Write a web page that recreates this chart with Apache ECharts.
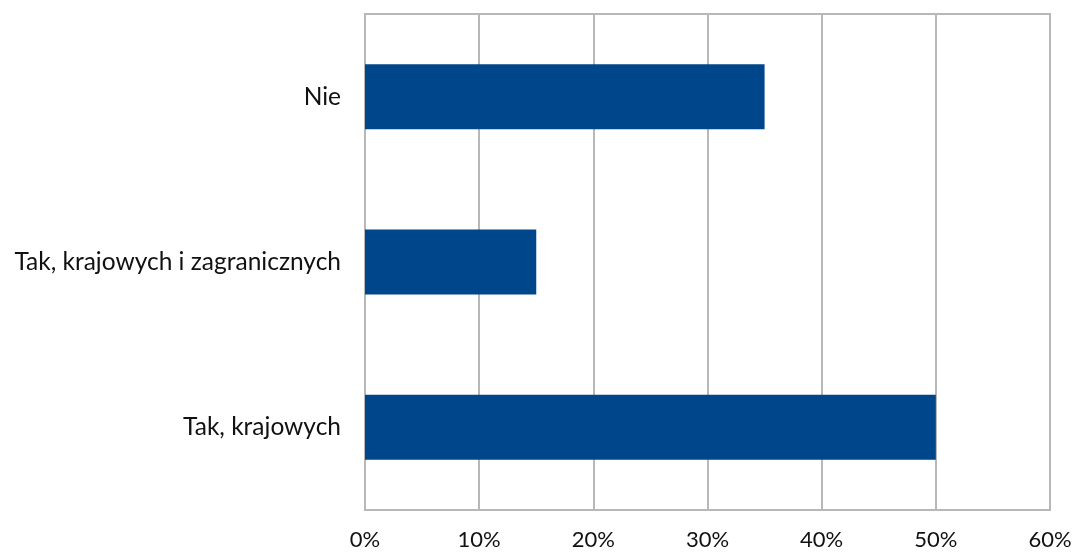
<!DOCTYPE html>
<html>
<head>
<meta charset="utf-8">
<script src="https://cdn.jsdelivr.net/npm/echarts@6/dist/echarts.min.js"></script>
<style>
  html, body { margin: 0; padding: 0; background: #fff; }
  #chart { width: 1078px; height: 553px; }
</style>
</head>
<body>
<div id="chart"></div>
<script>
// Answer categories, listed bottom to top
const categories = ['Tak, krajowych', 'Tak, krajowych i zagranicznych', 'Nie'];
// Share of responses, percent
const shares = [50, 15, 35];
// Value axis range and step, percent
const axisMax = 60;
const axisStep = 10;

const chart = echarts.init(document.getElementById('chart'), null, { renderer: 'canvas' });
const font = 'Lato, "Open Sans", sans-serif';

chart.setOption({
  animation: false,
  grid: {
    left: 365, right: 28, top: 14, bottom: 43,
    show: true, borderColor: '#b8b8b8', borderWidth: 2, backgroundColor: 'transparent'
  },
  xAxis: {
    type: 'value',
    min: 0, max: axisMax, interval: axisStep,
    axisLine: { show: false },
    axisTick: { show: false },
    splitLine: { show: true, lineStyle: { color: '#b8b8b8', width: 2 } },
    axisLabel: {
      formatter: v => v + '%',
      color: '#111', fontFamily: font, fontSize: 22, margin: 19
    }
  },
  yAxis: {
    type: 'category',
    data: categories,
    axisLine: { show: true, lineStyle: { color: '#b8b8b8', width: 2 } },
    axisTick: { show: false },
    axisLabel: { color: '#111', fontFamily: font, fontSize: 24.5, margin: 24 }
  },
  series: [{
    type: 'bar',
    data: shares,
    barWidth: 65,
    itemStyle: { color: '#00468a' }
  }]
});
</script>
</body>
</html>
